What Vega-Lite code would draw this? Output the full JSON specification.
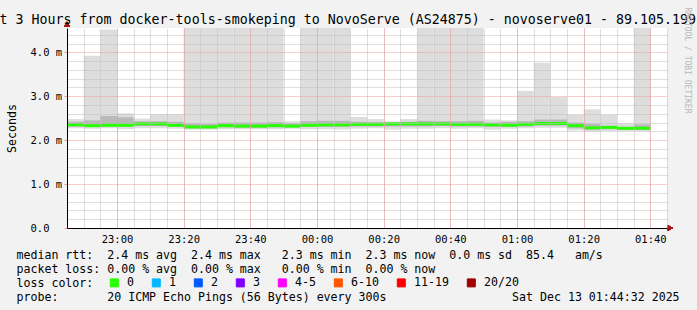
{
  "$schema": "https://vega.github.io/schema/vega-lite/v6.json",
  "width": 600,
  "height": 200,
  "autosize": "none",
  "padding": {"left": 67, "top": 28, "right": 30, "bottom": 82},
  "background": "#f2f2f2",
  "config": {
    "font": "DejaVu Sans Mono",
    "view": {"fill": "white", "stroke": null},
    "axis": {"labelFont": "DejaVu Sans Mono", "titleFont": "DejaVu Sans Mono", "titleFontWeight": "normal", "titleColor": "black", "labelColor": "black"}
  },
  "data": {
    "values": [
      {"t": "2025-12-12T22:45:00Z", "te": "2025-12-12T22:50:00Z", "min": 2.27, "lo": 2.31, "med": 2.35, "hi": 2.42, "max": 2.48, "loss": "0"},
      {"t": "2025-12-12T22:50:00Z", "te": "2025-12-12T22:55:00Z", "min": 2.26, "lo": 2.30, "med": 2.33, "hi": 2.45, "max": 3.92, "loss": "0"},
      {"t": "2025-12-12T22:55:00Z", "te": "2025-12-12T23:00:00Z", "min": 2.27, "lo": 2.31, "med": 2.34, "hi": 2.55, "max": 4.52, "loss": "0"},
      {"t": "2025-12-12T23:00:00Z", "te": "2025-12-12T23:05:00Z", "min": 2.25, "lo": 2.30, "med": 2.34, "hi": 2.52, "max": 2.61, "loss": "0"},
      {"t": "2025-12-12T23:05:00Z", "te": "2025-12-12T23:10:00Z", "min": 2.27, "lo": 2.32, "med": 2.37, "hi": 2.43, "max": 2.49, "loss": "0"},
      {"t": "2025-12-12T23:10:00Z", "te": "2025-12-12T23:15:00Z", "min": 2.27, "lo": 2.32, "med": 2.37, "hi": 2.43, "max": 2.59, "loss": "0"},
      {"t": "2025-12-12T23:15:00Z", "te": "2025-12-12T23:20:00Z", "min": 2.26, "lo": 2.30, "med": 2.34, "hi": 2.42, "max": 2.59, "loss": "0"},
      {"t": "2025-12-12T23:20:00Z", "te": "2025-12-12T23:25:00Z", "min": 2.24, "lo": 2.27, "med": 2.30, "hi": 2.38, "max": 5.2, "loss": "0"},
      {"t": "2025-12-12T23:25:00Z", "te": "2025-12-12T23:30:00Z", "min": 2.24, "lo": 2.27, "med": 2.30, "hi": 2.37, "max": 5.1, "loss": "0"},
      {"t": "2025-12-12T23:30:00Z", "te": "2025-12-12T23:35:00Z", "min": 2.25, "lo": 2.29, "med": 2.33, "hi": 2.40, "max": 5.3, "loss": "0"},
      {"t": "2025-12-12T23:35:00Z", "te": "2025-12-12T23:40:00Z", "min": 2.25, "lo": 2.28, "med": 2.32, "hi": 2.40, "max": 5.0, "loss": "0"},
      {"t": "2025-12-12T23:40:00Z", "te": "2025-12-12T23:45:00Z", "min": 2.25, "lo": 2.28, "med": 2.32, "hi": 2.40, "max": 5.4, "loss": "0"},
      {"t": "2025-12-12T23:45:00Z", "te": "2025-12-12T23:50:00Z", "min": 2.25, "lo": 2.29, "med": 2.33, "hi": 2.41, "max": 5.1, "loss": "0"},
      {"t": "2025-12-12T23:50:00Z", "te": "2025-12-12T23:55:00Z", "min": 2.26, "lo": 2.29, "med": 2.32, "hi": 2.38, "max": 2.43, "loss": "0"},
      {"t": "2025-12-12T23:55:00Z", "te": "2025-12-13T00:00:00Z", "min": 2.25, "lo": 2.30, "med": 2.34, "hi": 2.43, "max": 5.2, "loss": "0"},
      {"t": "2025-12-13T00:00:00Z", "te": "2025-12-13T00:05:00Z", "min": 2.25, "lo": 2.30, "med": 2.35, "hi": 2.44, "max": 5.0, "loss": "0"},
      {"t": "2025-12-13T00:05:00Z", "te": "2025-12-13T00:10:00Z", "min": 2.24, "lo": 2.30, "med": 2.35, "hi": 2.44, "max": 5.3, "loss": "0"},
      {"t": "2025-12-13T00:10:00Z", "te": "2025-12-13T00:15:00Z", "min": 2.26, "lo": 2.31, "med": 2.36, "hi": 2.42, "max": 2.53, "loss": "0"},
      {"t": "2025-12-13T00:15:00Z", "te": "2025-12-13T00:20:00Z", "min": 2.27, "lo": 2.31, "med": 2.36, "hi": 2.41, "max": 2.48, "loss": "0"},
      {"t": "2025-12-13T00:20:00Z", "te": "2025-12-13T00:25:00Z", "min": 2.24, "lo": 2.31, "med": 2.37, "hi": 2.40, "max": 2.43, "loss": "0"},
      {"t": "2025-12-13T00:25:00Z", "te": "2025-12-13T00:30:00Z", "min": 2.26, "lo": 2.31, "med": 2.37, "hi": 2.42, "max": 2.48, "loss": "0"},
      {"t": "2025-12-13T00:30:00Z", "te": "2025-12-13T00:35:00Z", "min": 2.26, "lo": 2.31, "med": 2.37, "hi": 2.44, "max": 5.1, "loss": "0"},
      {"t": "2025-12-13T00:35:00Z", "te": "2025-12-13T00:40:00Z", "min": 2.27, "lo": 2.32, "med": 2.37, "hi": 2.43, "max": 5.2, "loss": "0"},
      {"t": "2025-12-13T00:40:00Z", "te": "2025-12-13T00:45:00Z", "min": 2.26, "lo": 2.31, "med": 2.36, "hi": 2.43, "max": 5.0, "loss": "0"},
      {"t": "2025-12-13T00:45:00Z", "te": "2025-12-13T00:50:00Z", "min": 2.27, "lo": 2.31, "med": 2.36, "hi": 2.44, "max": 5.3, "loss": "0"},
      {"t": "2025-12-13T00:50:00Z", "te": "2025-12-13T00:55:00Z", "min": 2.24, "lo": 2.30, "med": 2.35, "hi": 2.40, "max": 2.47, "loss": "0"},
      {"t": "2025-12-13T00:55:00Z", "te": "2025-12-13T01:00:00Z", "min": 2.26, "lo": 2.30, "med": 2.34, "hi": 2.42, "max": 2.45, "loss": "0"},
      {"t": "2025-12-13T01:00:00Z", "te": "2025-12-13T01:05:00Z", "min": 2.27, "lo": 2.31, "med": 2.36, "hi": 2.43, "max": 3.12, "loss": "0"},
      {"t": "2025-12-13T01:05:00Z", "te": "2025-12-13T01:10:00Z", "min": 2.28, "lo": 2.33, "med": 2.38, "hi": 2.47, "max": 3.76, "loss": "0"},
      {"t": "2025-12-13T01:10:00Z", "te": "2025-12-13T01:15:00Z", "min": 2.28, "lo": 2.33, "med": 2.38, "hi": 2.47, "max": 2.98, "loss": "0"},
      {"t": "2025-12-13T01:15:00Z", "te": "2025-12-13T01:20:00Z", "min": 2.22, "lo": 2.27, "med": 2.33, "hi": 2.40, "max": 2.58, "loss": "0"},
      {"t": "2025-12-13T01:20:00Z", "te": "2025-12-13T01:25:00Z", "min": 2.20, "lo": 2.24, "med": 2.28, "hi": 2.37, "max": 2.70, "loss": "0"},
      {"t": "2025-12-13T01:25:00Z", "te": "2025-12-13T01:30:00Z", "min": 2.21, "lo": 2.25, "med": 2.29, "hi": 2.33, "max": 2.58, "loss": "0"},
      {"t": "2025-12-13T01:30:00Z", "te": "2025-12-13T01:35:00Z", "min": 2.21, "lo": 2.24, "med": 2.27, "hi": 2.30, "max": 2.38, "loss": "0"},
      {"t": "2025-12-13T01:35:00Z", "te": "2025-12-13T01:40:00Z", "min": 2.20, "lo": 2.24, "med": 2.27, "hi": 2.36, "max": 5.2, "loss": "0"}
    ]
  },
  "resolve": {"axis": {"x": "independent", "y": "independent"}},
  "layer": [
    {
      "mark": {"type": "rect", "color": "#dddddd", "clip": true},
      "encoding": {
        "x": {"field": "t", "type": "temporal",
          "scale": {"type": "utc", "domain": [1765579500000, 1765590300000]},
          "axis": {"orient": "top", "labels": false, "ticks": false, "domain": false, "grid": true, "gridColor": "#bfbfbf", "gridDash": [1, 1],
            "values": [1765579500000, 1765579800000, 1765580100000, 1765580400000, 1765580700000, 1765581000000, 1765581300000, 1765581600000, 1765581900000, 1765582200000, 1765582500000, 1765582800000, 1765583100000, 1765583400000, 1765583700000, 1765584000000, 1765584300000, 1765584600000, 1765584900000, 1765585200000, 1765585500000, 1765585800000, 1765586100000, 1765586400000, 1765586700000, 1765587000000, 1765587300000, 1765587600000, 1765587900000, 1765588200000, 1765588500000, 1765588800000, 1765589100000, 1765589400000, 1765589700000, 1765590000000, 1765590300000],
            "zindex": 1,
            "title": "t 3 Hours from docker-tools-smokeping to NovoServe (AS24875) - novoserve01 - 89.105.199",
            "titleX": -68, "titleY": -5, "titleAlign": "left", "titleBaseline": "alphabetic", "titleFontSize": 13.3}},
        "x2": {"field": "te"},
        "y": {"field": "min", "type": "quantitative",
          "scale": {"domain": [0, 4.553], "nice": false},
          "axis": {"orient": "right", "labels": false, "ticks": false, "domain": false, "grid": true, "gridColor": "#bfbfbf", "gridDash": [1, 1],
            "values": [0.2, 0.4, 0.6, 0.8, 1.2, 1.4, 1.6, 1.8, 2.2, 2.4, 2.6, 2.8, 3.2, 3.4, 3.6, 3.8, 4.2, 4.4], "zindex": 1,
            "title": "RRDTOOL / TOBI OETIKER", "titleAngle": 90, "titleX": 17, "titleY": 32, "titleAlign": "center", "titleBaseline": "alphabetic", "titleFontSize": 8, "titleColor": "#b8b8b8"}},
        "y2": {"field": "max"}
      }
    },
    {
      "mark": {"type": "rect", "color": "#b9b9b9", "clip": true},
      "encoding": {
        "x": {"field": "t", "type": "temporal", "axis": null},
        "x2": {"field": "te"},
        "y": {"field": "lo", "type": "quantitative", "axis": null},
        "y2": {"field": "hi"}
      }
    },
    {
      "mark": {"type": "rule", "strokeWidth": 3, "strokeCap": "butt"},
      "encoding": {
        "x": {"field": "t", "type": "temporal",
          "axis": {"orient": "bottom", "format": "%H:%M",
            "values": [1765580400000, 1765581600000, 1765582800000, 1765584000000, 1765585200000, 1765586400000, 1765587600000, 1765588800000, 1765590000000],
            "grid": true, "gridColor": "#ef9a9a", "gridDash": [1, 1],
            "domainColor": "black", "ticks": false, "labelFontSize": 10.5, "labelPadding": 6, "labelBaseline": "top", "labelFlush": false, "labelOverlap": false, "zindex": 1,
            "title": ["median rtt:\u00a0\u00a02.4 ms avg\u00a0\u00a02.4 ms max\u00a0\u00a0\u00a02.3 ms min\u00a0\u00a02.3 ms now\u00a0\u00a00.0 ms sd\u00a0\u00a085.4\u00a0\u00a0\u00a0am/s",
                      "packet loss:\u00a00.00 % avg\u00a0\u00a00.00 % max\u00a0\u00a0\u00a00.00 % min\u00a0\u00a00.00 % now",
                      "loss color:",
                      "probe:\u00a0\u00a0\u00a0\u00a0\u00a0\u00a0\u00a020 ICMP Echo Pings (56 Bytes) every 300s\u00a0\u00a0\u00a0\u00a0\u00a0\u00a0\u00a0\u00a0\u00a0\u00a0\u00a0\u00a0\u00a0\u00a0\u00a0\u00a0\u00a0\u00a0Sat Dec 13 01:44:32 2025"],
            "titleX": -51, "titleY": 30.5, "titleAlign": "left", "titleBaseline": "alphabetic", "titleFontSize": 11.6, "titleLineHeight": 14}},
        "x2": {"field": "te"},
        "y": {"field": "med", "type": "quantitative",
          "axis": {"orient": "left", "values": [0, 1, 2, 3, 4], "labelExpr": "datum.value === 0 ? '0.0' : format(datum.value, '.1f') + ' m'",
            "labelAlign": "left", "labelBaseline": "middle", "labelPadding": 34, "labelFontSize": 10.5, "ticks": true, "tickSize": 3, "tickColor": "#ef9a9a",
            "grid": true, "gridColor": "#ef9a9a", "gridDash": [1, 1],
            "domainColor": "black", "zindex": 1,
            "title": "Seconds", "titleAngle": -90, "titleX": -52, "titleY": 100, "titleAlign": "center", "titleBaseline": "alphabetic", "titleFontSize": 11.6}},
        "color": {"field": "loss", "type": "nominal",
          "scale": {"domain": ["0", "1", "2", "3", "4-5", "6-10", "11-19", "20/20"], "range": ["#26ff00", "#00b8ff", "#0059ff", "#7e00ff", "#ff00ff", "#ff5500", "#ff0000", "#a10000"]},
          "legend": {"orient": "none", "legendX": 41.5, "legendY": 249, "direction": "horizontal", "title": null,
            "symbolType": "square", "symbolSize": 64, "symbolStrokeWidth": 1, "labelFont": "DejaVu Sans Mono", "labelFontSize": 11.6, "labelColor": "black",
            "labelOffset": 7, "columnPadding": 15,
            "encode": {"symbols": {"update": {"fill": {"scale": "color", "field": "value"}, "fillOpacity": {"value": 1}, "stroke": {"value": "black"}, "strokeWidth": {"value": 1}}}}}}
      }
    },
    {
      "mark": {"type": "point", "shape": "triangle-up", "filled": true, "size": 30, "color": "#a01818", "opacity": 1, "clip": false},
      "encoding": {
        "x": {"datum": 1765579500000, "type": "temporal", "axis": null},
        "y": {"datum": 4.644, "type": "quantitative", "axis": null}
      }
    },
    {
      "mark": {"type": "point", "shape": "triangle-right", "filled": true, "size": 30, "color": "#a01818", "opacity": 1, "clip": false},
      "encoding": {
        "x": {"datum": 1765590360000, "type": "temporal", "axis": null},
        "y": {"datum": 0, "type": "quantitative", "axis": null}
      }
    }
  ]
}
